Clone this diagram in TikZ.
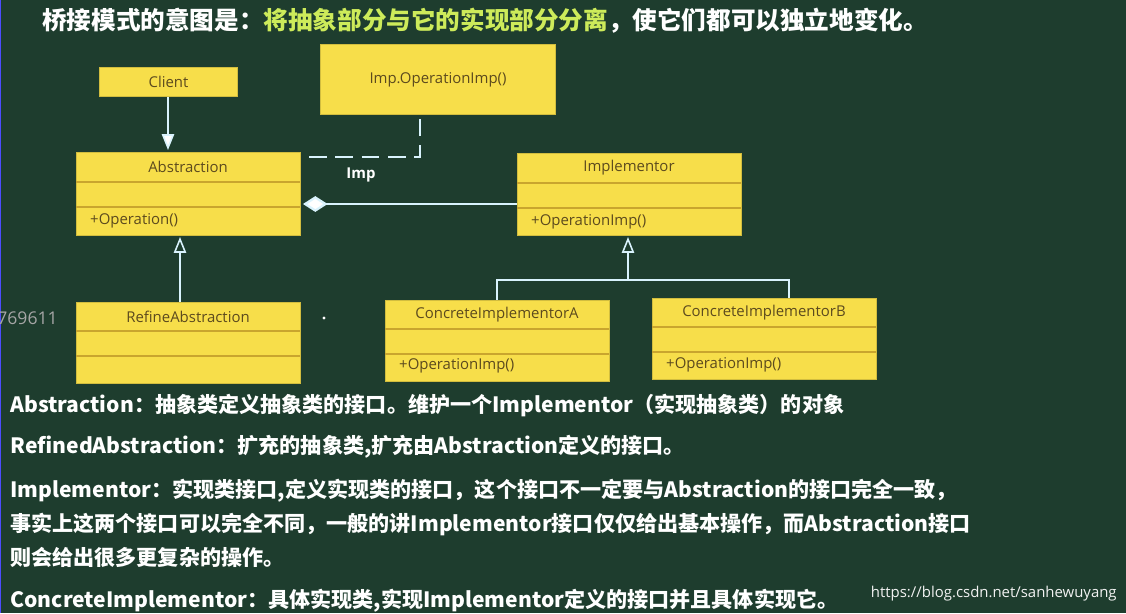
\documentclass[tikz,border=0pt]{standalone}
\usepackage{fontspec}
\setmainfont{Noto Sans CJK SC}
\newfontfamily\boxfont{Open Sans}
\usetikzlibrary{arrows.meta,calc}
\definecolor{bg}{HTML}{1E3D2E}
\definecolor{boxy}{HTML}{F7DE4A}
\definecolor{boxl}{HTML}{C9A52E}
\definecolor{boxt}{HTML}{5C4A1E}
\definecolor{hl}{HTML}{CDEB5A}
\tikzset{
  px/.style={x=0.02cm,y=-0.02cm},
  umlbox/.style={fill=boxy,draw=boxy!85!black,line width=0.6pt},
  divl/.style={draw=boxl,line width=0.8pt},
  btxt/.style={font=\boxfont\fontsize{8.5}{9}\selectfont,text=boxt},
  wline/.style={draw=white!85!cyan,line width=0.9pt},
  desc/.style={anchor=west,text=white,font=\bfseries\fontsize{12}{14}\selectfont,inner sep=0pt},
}
\newcommand{\umlclass}[7]{%
  \node[umlbox,minimum width=224*0.02cm,minimum height=#4*0.02cm,anchor=north west,inner sep=0pt] (#1) at (#2,#3) {};
  \draw[divl] (#2,#5) -- ++(224,0);
  \draw[divl] (#2,#6) -- ++(224,0);
  \node[btxt] at ($(#2,#3)!0.5!(#2+224,#5)$) {#7};
}
\begin{document}
\begin{tikzpicture}[px]
\fill[bg] (0,0) rectangle (1126,613);
\useasboundingbox (0,0) rectangle (1126,613);
\draw[blue!70,line width=1pt] (0.5,0) -- (0.5,613);
% title
\node[anchor=west,inner sep=0pt,text=white,font=\bfseries\fontsize{14}{16}\selectfont] (title) at (42,21) {桥接模式的意图是：\textcolor{hl}{将抽象部分与它的实现部分分离}，使它们都可以独立地变化。};
% boxes
\node[umlbox,minimum width=138*0.02cm,minimum height=29*0.02cm,anchor=north west] (client) at (99,67) {};
\node[btxt] at (client.center) {Client};
\node[umlbox,minimum width=235*0.02cm,minimum height=70*0.02cm,anchor=north west] (imp) at (320,44) {};
\node[btxt] at (imp.center) {Imp.OperationImp()};
\umlclass{abs}{76}{152}{83}{182}{207}{Abstraction}
\node[btxt,anchor=west] at (84,221) {+Operation()};
\umlclass{impl}{517}{153}{82}{183}{208}{Implementor}
\node[btxt,anchor=west] at (525,222) {+OperationImp()};
\umlclass{ref}{76}{302}{81}{331}{356}{RefineAbstraction}
\umlclass{ca}{385}{300}{81}{329}{354}{ConcreteImplementorA}
\node[btxt,anchor=west] at (393,366) {+OperationImp()};
\umlclass{cb}{652}{298}{81}{327}{352}{ConcreteImplementorB}
\node[btxt,anchor=west] at (660,365) {+OperationImp()};
% connectors
\draw[wline,-{Triangle[open,length=9pt,width=7pt,fill=white]}] (client.south -| 168,0) -- (168,150);
\draw[wline,dashed,dash pattern=on 10pt off 5pt,line width=1.3pt] (309,157) -| (imp.south -| 420,0);
\node[text=white,font=\boxfont\bfseries\fontsize{8.5}{10}\selectfont] (implbl) at (361,175) {Imp};
\draw[wline,line width=1.3pt,{Diamond[length=14pt,width=9pt,fill=white]}-] (303,204) -- (impl.west |- 0,204);
\draw[wline,-{Triangle[open,length=9pt,width=7pt]}] (180,302) -- (180,237);
\draw[wline,-{Triangle[open,length=9pt,width=7pt]}] (628,280) -- (628,237);
\draw[wline] (ca.north -| 497,0) -- (497,280) -- (789,280) -- (cb.north -| 789,0);
\fill[white!80] (324,318) circle (1.6);
\node[anchor=west,inner sep=0pt,text=gray!70,font=\boxfont\fontsize{10}{12}\selectfont] (wm1) at (-3,318) {769611};
% descriptions
\node[desc] (d1) at (10,405) {Abstraction：抽象类定义抽象类的接口。维护一个Implementor（实现抽象类）的对象};
\node[desc] (d2) at (10,447) {RefinedAbstraction：扩充的抽象类,扩充由Abstraction定义的接口。};
\node[desc] (d3) at (10,491) {Implementor：实现类接口,定义实现类的接口，这个接口不一定要与Abstraction的接口完全一致，};
\node[desc] (d4) at (10,524) {事实上这两个接口可以完全不同，一般的讲Implementor接口仅仅给出基本操作，而Abstraction接口};
\node[desc] (d5) at (10,557) {则会给出很多更复杂的操作。};
\node[desc] (d6) at (10,601) {ConcreteImplementor：具体实现类,实现Implementor定义的接口并且具体实现它。};
\node[anchor=east,inner sep=0pt,text=white!90!gray,font=\boxfont\fontsize{8.5}{10}\selectfont] (wm2) at (1117,594) {https://blog.csdn.net/sanhewuyang};
\end{tikzpicture}
\end{document}
